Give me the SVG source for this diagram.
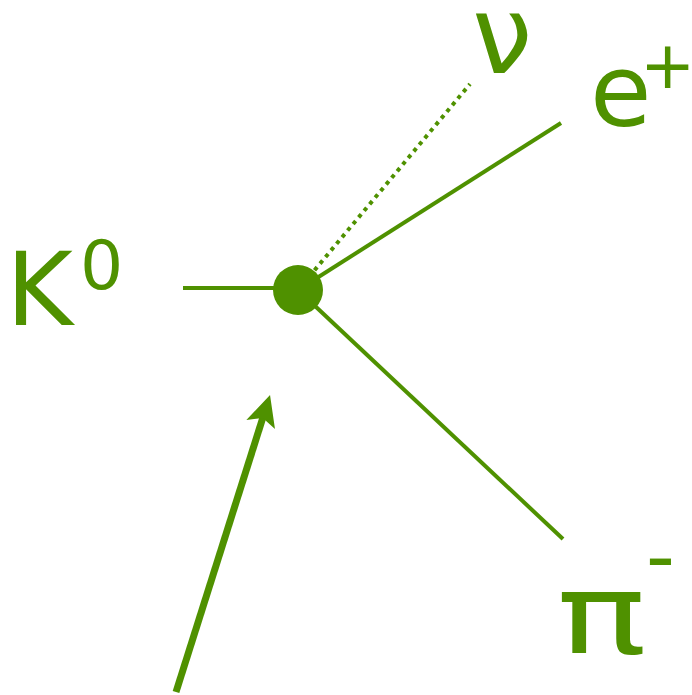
<svg xmlns="http://www.w3.org/2000/svg" width="692" height="695" viewBox="0 0 692 695">
<style>
.t{font-family:"DejaVu Sans",sans-serif;fill:#4f9100}
.l{stroke:#4f9100;stroke-width:4;fill:none}
.a{stroke:#4f9100;stroke-width:7;fill:none}
</style>
<defs>
<marker id="ah" markerUnits="userSpaceOnUse" markerWidth="50" markerHeight="50" refX="0" refY="0" viewBox="-25 -25 50 50" orient="auto">
<path d="M15,0 L-16,-15 L-9,0 L-16,15 Z" fill="#4f9100"/>
</marker>
</defs>
<rect width="692" height="695" fill="#fff"/>
<g id="connectors">
<line class="l" x1="183" y1="288" x2="298" y2="288"/>
<line class="l" x1="298" y1="290" x2="470" y2="84" stroke-dasharray="4 4.6"/>
<line class="l" x1="298" y1="290" x2="561" y2="123"/>
<line class="l" x1="298" y1="290" x2="563" y2="539"/>
<line class="a" x1="176" y1="692" x2="265.5" y2="409.3" marker-end="url(#ah)"/>
</g>
<g id="vertex"><circle cx="298" cy="290" r="25" fill="#4f9100"/></g>
<g id="K0"><text class="t" x="6" y="325" font-size="102">K</text><text class="t" x="80" y="289" font-size="68">0</text></g>
<g id="nu"><text class="t" x="472" y="73" font-size="108">ν</text></g>
<g id="eplus"><text class="t" x="590" y="126" font-size="100">e</text><text class="t" x="640" y="88" font-size="66">+</text></g>
<g id="piminus"><text class="t" transform="translate(562,653) scale(1.36,1)" x="-4" y="0" font-size="110">π</text><text class="t" x="646" y="584" font-size="80">-</text></g>
</svg>
